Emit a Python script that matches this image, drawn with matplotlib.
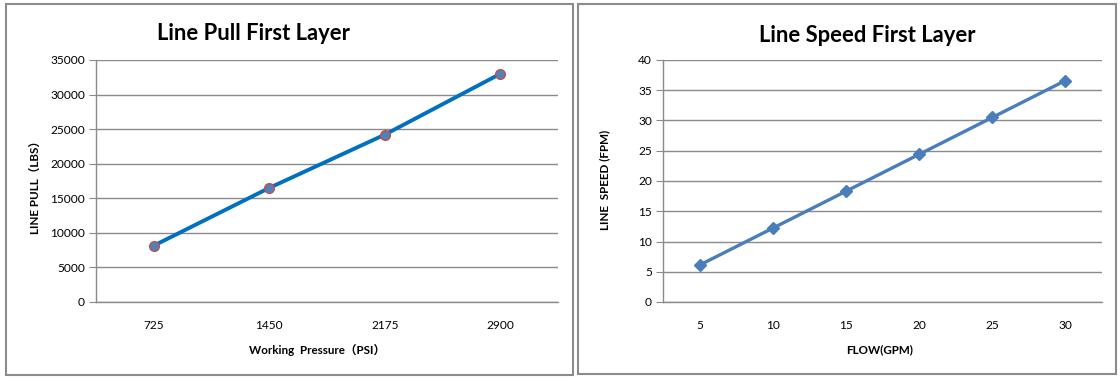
import matplotlib
matplotlib.use("Agg")
import matplotlib.pyplot as plt
from matplotlib.patches import Rectangle

# Data
pull_categories = ["725", "1450", "2175", "2900"]
pull_values = [8150, 16500, 24200, 33000]
pull_yticks = [0, 5000, 10000, 15000, 20000, 25000, 30000, 35000]

speed_categories = ["5", "10", "15", "20", "25", "30"]
speed_values = [6.1, 12.2, 18.3, 24.4, 30.5, 36.6]
speed_yticks = [0, 5, 10, 15, 20, 25, 30, 35, 40]

FONT = ["Lato", "Noto Sans CJK SC", "DejaVu Sans"]
plt.rcParams["font.family"] = FONT

W, H = 1120, 381
fig = plt.figure(figsize=(W / 100, H / 100), dpi=100)

def fx(px):
    return px / W

def fy(py):
    return 1 - py / H

# Panel borders
for (x0, y0, x1, y1) in [(6, 4, 573, 375), (578, 4, 1116, 374)]:
    fig.patches.append(Rectangle((fx(x0), fy(y1)), fx(x1 - x0), (y1 - y0) / H,
                                 transform=fig.transFigure, fill=False,
                                 edgecolor="#8c8c8c", linewidth=1.5))

grid_c = "#8a8a8a"
TICK_FS = 8.6
LAB_FS = 8.4

def style_axes(ax, yticks, ymax):
    ax.set_ylim(0, ymax)
    ax.set_yticks(yticks)
    ax.yaxis.grid(True, color=grid_c, linewidth=1.0)
    ax.set_axisbelow(True)
    for s in ["top", "right"]:
        ax.spines[s].set_visible(False)
    ax.spines["left"].set_color(grid_c)
    ax.spines["bottom"].set_color(grid_c)
    ax.spines["left"].set_linewidth(1.0)
    ax.spines["bottom"].set_linewidth(1.0)
    ax.tick_params(axis="y", length=5, color=grid_c, labelsize=TICK_FS, pad=3)
    ax.tick_params(axis="x", length=0, labelsize=TICK_FS, pad=13)

# Left chart
ax1 = fig.add_axes([fx(96), fy(302), fx(558 - 96), (302 - 60) / H])
x1 = list(range(len(pull_categories)))
ax1.plot(x1, pull_values, color="#0070C0", linewidth=2.8, marker="o",
         markersize=7, markerfacecolor="#4F81BD", markeredgecolor="#C0504D",
         markeredgewidth=1.0, solid_capstyle="round")
ax1.set_xlim(-0.5, len(pull_categories) - 0.5)
ax1.set_xticks(x1)
ax1.set_xticklabels(pull_categories)
style_axes(ax1, pull_yticks, 35000)

fig.text(fx(253), fy(34), "Line Pull First Layer", ha="center", va="center",
         fontsize=15.8, fontweight="bold")
fig.text(fx(35), fy(185), "LINE PULL（LBS）", ha="center", va="center",
         rotation=90, fontsize=LAB_FS, fontweight="bold", family=FONT)
fig.text(fx(317), fy(350), "Working  Pressure（PSI）", ha="center", va="center",
         fontsize=LAB_FS, fontweight="bold", family=FONT)

# Right chart
ax2 = fig.add_axes([fx(663), fy(302), fx(1102 - 663), (302 - 60) / H])
x2 = list(range(len(speed_categories)))
ax2.plot(x2, speed_values, color="#4A7EBB", linewidth=2.4, marker="D",
         markersize=6, markerfacecolor="#4A7EBB", markeredgecolor="#4A7EBB")
ax2.set_xlim(-0.5, len(speed_categories) - 0.5)
ax2.set_xticks(x2)
ax2.set_xticklabels(speed_categories)
style_axes(ax2, speed_yticks, 40)

fig.text(fx(867), fy(35), "Line Speed First Layer", ha="center", va="center",
         fontsize=15.8, fontweight="bold")
fig.text(fx(605), fy(180), "LINE  SPEED (FPM)", ha="center", va="center",
         rotation=90, fontsize=LAB_FS, fontweight="bold")
fig.text(fx(880), fy(350), "FLOW(GPM)", ha="center", va="center",
         fontsize=LAB_FS, fontweight="bold")

fig.savefig("out.png", dpi=100, facecolor="white")
